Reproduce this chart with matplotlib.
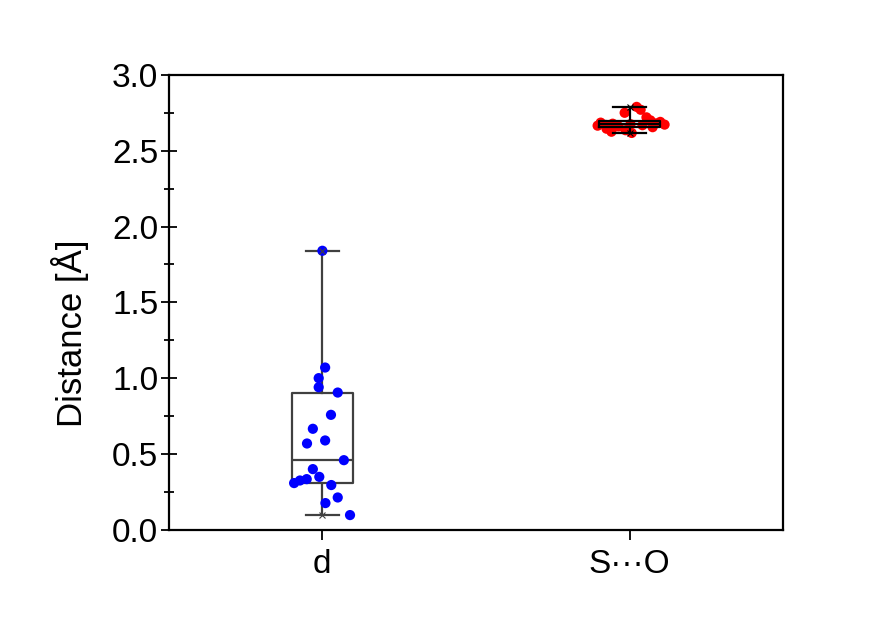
import numpy as np
import matplotlib
matplotlib.use("Agg")
import matplotlib.pyplot as plt
from matplotlib.ticker import MultipleLocator, FormatStrFormatter

plt.rcParams['font.family'] = ['Liberation Sans', 'DejaVu Sans']

categories = ['d', 'S\u00b7\u00b7\u00b7O']

d_values = [1.84, 1.07, 1.00, 0.94, 0.905, 0.758, 0.666, 0.569, 0.589, 0.459,
            0.40, 0.349, 0.334, 0.325, 0.308, 0.295, 0.213, 0.176, 0.097]
d_jitter = [0.0, 0.009, -0.012, -0.012, 0.05, 0.028, -0.031, -0.05, 0.009, 0.07,
            -0.031, -0.01, -0.051, -0.073, -0.092, 0.029, 0.05, 0.01, 0.09]

so_values = [2.789, 2.770, 2.750, 2.720, 2.700, 2.690, 2.685, 2.680, 2.678, 2.675,
             2.672, 2.670, 2.668, 2.665, 2.660, 2.655, 2.645, 2.635, 2.625, 2.617]
so_jitter = [0.023, 0.036, -0.016, 0.055, 0.068, 0.10, -0.094, 0.085, -0.055, 0.003,
             0.114, -0.078, 0.042, -0.104, -0.036, 0.075, -0.075, -0.013, -0.059, 0.007]

groups = [d_values, so_values]
jitters = [d_jitter, so_jitter]
point_colors = ['#0000ff', '#ff0000']
box_colors = ['#404040', '#000000']

fig = plt.figure(figsize=(8.93, 6.24), dpi=100)
ax = fig.add_axes([0.189, 0.151, 0.688, 0.729])

positions = [1, 2]
for i, (vals, jit) in enumerate(zip(groups, jitters)):
    v = np.asarray(vals)
    q1, med, q3 = np.percentile(v, [25, 50, 75], method='weibull')
    stats = [dict(med=med, q1=q1, q3=q3, whislo=v.min(), whishi=v.max(),
                  fliers=[], label=categories[i])]
    col = box_colors[i]
    z_box = 2 if i == 0 else 4
    ax.bxp(stats, positions=[positions[i]], widths=0.2, showfliers=False,
           boxprops=dict(color=col, linewidth=1.6),
           whiskerprops=dict(color=col, linewidth=1.6),
           capprops=dict(color=col, linewidth=1.6),
           medianprops=dict(color=col, linewidth=1.6),
           capwidths=0.105, zorder=z_box, manage_ticks=False)
    ax.scatter(positions[i] + np.asarray(jit), v, s=54, color=point_colors[i],
               edgecolors='none', zorder=3)
    ax.plot([positions[i], positions[i]], [v.min(), v.max()], linestyle='none',
            marker='x', markersize=4, color=col, markeredgewidth=0.8, zorder=5)

ax.set_xlim(0.5, 2.5)
ax.set_ylim(0, 3.0)
ax.set_xticks(positions)
ax.set_xticklabels(categories)
ax.yaxis.set_major_locator(MultipleLocator(0.5))
ax.yaxis.set_minor_locator(MultipleLocator(0.25))
ax.yaxis.set_major_formatter(FormatStrFormatter('%.1f'))

ax.tick_params(axis='y', which='major', direction='inout', length=11, width=1.3,
               labelsize=24, pad=2)
ax.tick_params(axis='y', which='minor', direction='inout', length=7, width=1.3)
ax.tick_params(axis='x', which='major', direction='out', length=7, width=1.3,
               labelsize=24, pad=7)
for sp in ax.spines.values():
    sp.set_linewidth(1.6)

ax.set_ylabel('Distance [\u00c5]', fontsize=25)
ax.yaxis.set_label_coords(-0.130, 0.433)

fig.savefig('out.png', dpi=100, facecolor='white')
